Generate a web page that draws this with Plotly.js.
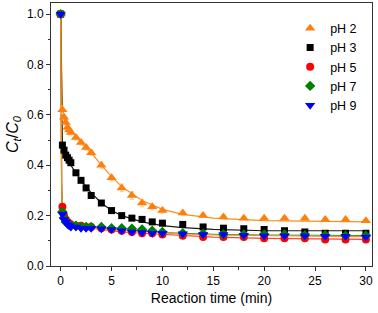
<!DOCTYPE html>
<html><head><meta charset="utf-8">
<script src="https://cdn.plot.ly/plotly-3.0.1.min.js"></script>
<style>html,body{margin:0;padding:0;background:#fff}#plot{width:378px;height:313px}</style>
</head><body><div id="plot"></div>
<script>
const time = [0, 0.17, 0.33, 0.5, 0.67, 0.83, 1, 1.5, 2, 2.5, 3, 4, 5, 6, 7, 8, 9, 10, 12, 14, 16, 18, 20, 22, 24, 26, 28, 30];
const pH2 = [1.0, 0.62, 0.59, 0.57, 0.55, 0.54, 0.53, 0.51, 0.49, 0.47, 0.45, 0.40, 0.35, 0.31, 0.28, 0.25, 0.235, 0.22, 0.21, 0.20, 0.195, 0.19, 0.19, 0.19, 0.19, 0.185, 0.185, 0.18];
const pH2Err = [0.005, 0.015, 0.01, 0.01, 0.01, 0.01, 0.01, 0.01, 0.01, 0.01, 0.01, 0.012, 0.012, 0.015, 0.015, 0.015, 0.012, 0.01, 0.008, 0.008, 0.008, 0.006, 0.006, 0.006, 0.006, 0.006, 0.006, 0.006];
const pH3 = [1.0, 0.48, 0.46, 0.44, 0.43, 0.42, 0.41, 0.37, 0.34, 0.31, 0.28, 0.25, 0.22, 0.20, 0.19, 0.185, 0.175, 0.17, 0.165, 0.155, 0.15, 0.148, 0.145, 0.14, 0.135, 0.13, 0.13, 0.13];
const pH5 = [1.0, 0.235, 0.20, 0.185, 0.175, 0.17, 0.165, 0.16, 0.16, 0.155, 0.155, 0.15, 0.145, 0.14, 0.135, 0.13, 0.13, 0.125, 0.12, 0.115, 0.115, 0.115, 0.11, 0.11, 0.11, 0.105, 0.105, 0.105];
const pH7 = [1.0, 0.215, 0.19, 0.175, 0.17, 0.165, 0.16, 0.16, 0.155, 0.155, 0.155, 0.155, 0.15, 0.15, 0.148, 0.145, 0.14, 0.135, 0.13, 0.128, 0.125, 0.125, 0.125, 0.125, 0.122, 0.122, 0.12, 0.12];
const pH9 = [1.0, 0.205, 0.185, 0.175, 0.165, 0.16, 0.155, 0.155, 0.15, 0.15, 0.15, 0.148, 0.145, 0.14, 0.135, 0.133, 0.13, 0.13, 0.128, 0.125, 0.125, 0.122, 0.12, 0.12, 0.12, 0.118, 0.118, 0.115];

const fitTime = [0, 0.05, 0.1, 0.17, 0.3, 0.5, 1, 2, 3, 4, 5, 6, 8, 10, 12, 15, 20, 25, 30];
const fit2 = [1.0, 0.85, 0.72, 0.63, 0.60, 0.575, 0.54, 0.49, 0.45, 0.40, 0.355, 0.315, 0.26, 0.225, 0.205, 0.19, 0.18, 0.177, 0.175];
const fit3 = [1.0, 0.75, 0.58, 0.48, 0.46, 0.44, 0.40, 0.34, 0.29, 0.25, 0.22, 0.20, 0.175, 0.16, 0.152, 0.145, 0.14, 0.14, 0.14];
const fit5 = [1.0, 0.55, 0.33, 0.235, 0.19, 0.17, 0.16, 0.155, 0.15, 0.145, 0.14, 0.135, 0.13, 0.125, 0.12, 0.115, 0.11, 0.107, 0.106];
const fit7 = [1.0, 0.52, 0.30, 0.215, 0.185, 0.17, 0.16, 0.155, 0.152, 0.15, 0.147, 0.144, 0.138, 0.133, 0.13, 0.126, 0.123, 0.122, 0.121];
const fit9 = [1.0, 0.52, 0.30, 0.215, 0.185, 0.17, 0.16, 0.155, 0.15, 0.147, 0.143, 0.14, 0.135, 0.13, 0.127, 0.123, 0.12, 0.118, 0.117];

const names = ['pH 2', 'pH 3', 'pH 5', 'pH 7', 'pH 9'];
const colors = ['#ff7f0e', '#000000', '#ff0000', '#008000', '#0000ff'];
const fitColors = ['#ff8c1a', '#1a1a1a', '#ff4040', '#2e9a2e', '#ff8c1a'];
const symbols = ['triangle-up', 'square', 'circle', 'diamond', 'triangle-down'];
const sizes = [9, 7, 8, 8, 9];
const series = [pH2, pH3, pH5, pH7, pH9];
const fits = [fit2, fit3, fit5, fit7, fit9];

const traces = [];
for (let i = 0; i < 5; i++) {
  traces.push({x: fitTime, y: fits[i], mode: 'lines', line: {color: fitColors[i], width: 1.2}, showlegend: false, hoverinfo: 'skip'});
}
for (let i = 0; i < 5; i++) {
  const t = {x: time, y: series[i], mode: 'markers', name: names[i],
    marker: {symbol: symbols[i], size: sizes[i], color: colors[i], line: {width: 0}}};
  if (i === 0) t.error_y = {type: 'data', array: pH2Err, visible: true, color: '#ffc58f', thickness: 1, width: 2};
  traces.push(t);
}

const layout = {
  width: 378, height: 313,
  margin: {l: 51, r: 6, t: 3, b: 47},
  paper_bgcolor: '#fff', plot_bgcolor: '#fff',
  font: {family: 'Liberation Sans, Arial, sans-serif', size: 12, color: '#000'},
  xaxis: {
    range: [-0.95, 30.6], tickvals: [0, 5, 10, 15, 20, 25, 30],
    ticks: 'outside', ticklen: 4, tickwidth: 1, tickcolor: '#333',
    minor: {tickvals: [2.5, 7.5, 12.5, 17.5, 22.5, 27.5], ticks: 'outside', ticklen: 2.5, tickcolor: '#333'},
    showline: true, linecolor: '#333', linewidth: 1, mirror: true,
    showgrid: false, zeroline: false,
    tickfont: {size: 12},
    title: {text: 'Reaction time (min)', font: {size: 14}, standoff: 5}
  },
  yaxis: {
    range: [0, 1.044], tickvals: [0, 0.2, 0.4, 0.6, 0.8, 1.0], ticktext: ['0.0', '0.2', '0.4', '0.6', '0.8', '1.0'],
    ticks: 'outside', ticklen: 4, tickwidth: 1, tickcolor: '#333',
    minor: {tickvals: [0.1, 0.3, 0.5, 0.7, 0.9], ticks: 'outside', ticklen: 2.5, tickcolor: '#333'},
    showline: true, linecolor: '#333', linewidth: 1, mirror: true,
    showgrid: false, zeroline: false,
    tickfont: {size: 12},
    title: {text: '<i>C</i><sub><i>t</i></sub>/<i>C</i><sub><i>0</i></sub>', font: {size: 16}, standoff: 4}
  },
  legend: {x: 0.745, y: 0.96, xanchor: 'left', yanchor: 'top', bgcolor: 'rgba(0,0,0,0)',
    font: {size: 12.5}, tracegroupgap: 0, itemwidth: 30},
  showlegend: true
};
Plotly.newPlot('plot', traces, layout, {displayModeBar: false, staticPlot: true});
</script></body></html>
